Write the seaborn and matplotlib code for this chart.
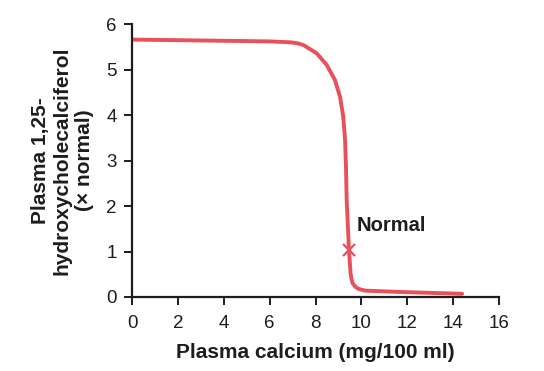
import matplotlib
matplotlib.use("Agg")
import matplotlib.pyplot as plt
import seaborn as sns
import pandas as pd

calcium = [0, 3, 6.0, 6.9, 7.2, 7.47, 8.05, 8.49, 8.85, 9.07, 9.21, 9.29, 9.33, 9.36, 9.46, 9.53, 9.57, 9.62, 9.75, 9.87, 10.16, 11.7, 14.4]
vitd = [5.66, 5.64, 5.62, 5.60, 5.58, 5.54, 5.36, 5.10, 4.77, 4.40, 3.96, 3.45, 2.85, 2.13, 1.03, 0.52, 0.40, 0.30, 0.22, 0.18, 0.14, 0.11, 0.07]
normal_x = [9.46]
normal_y = [1.03]
xticks = [0, 2, 4, 6, 8, 10, 12, 14, 16]
yticks = [0, 1, 2, 3, 4, 5, 6]

sns.set_style("ticks")
plt.rcParams['font.family'] = ['Liberation Sans', 'DejaVu Sans']

red = "#E8505B"
txt = "#1E1C1D"

fig = plt.figure(figsize=(5.44, 3.71), dpi=100)
ax = fig.add_axes([0.243, 0.1995, 0.674, 0.7355])
df = pd.DataFrame({"x": calcium, "y": vitd})
sns.lineplot(data=df, x="x", y="y", ax=ax, color=red, linewidth=2.8, sort=False)
ax.lines[0].set_solid_joinstyle("round")
ax.lines[0].set_solid_capstyle("round")
ax.plot(normal_x, normal_y, marker="x", color=red, markersize=9, markeredgewidth=1.6, linestyle="none")
ax.text(9.8, 1.57, "Normal", fontsize=14.5, fontweight="bold", color=txt, va="center", ha="left")

ax.set_xlim(0, 16)
ax.set_ylim(0, 6)
ax.set_xticks(xticks)
ax.set_yticks(yticks)
ax.tick_params(direction="out", length=6, width=1.4, colors=txt, labelsize=13.5)
ax.tick_params(axis="x", pad=7)
ax.tick_params(axis="y", pad=5)
for s in ["top", "right"]:
    ax.spines[s].set_visible(False)
for s in ["left", "bottom"]:
    ax.spines[s].set_linewidth(1.6)
    ax.spines[s].set_color(txt)
ax.set_xlabel("Plasma calcium (mg/100 ml)", fontsize=15, fontweight="bold", color=txt, labelpad=8)
ax.set_ylabel("Plasma 1,25-\nhydroxycholecalciferol\n(× normal)", fontsize=15, fontweight="bold", color=txt, labelpad=9, linespacing=1.2)

fig.savefig("out.png", dpi=100)
